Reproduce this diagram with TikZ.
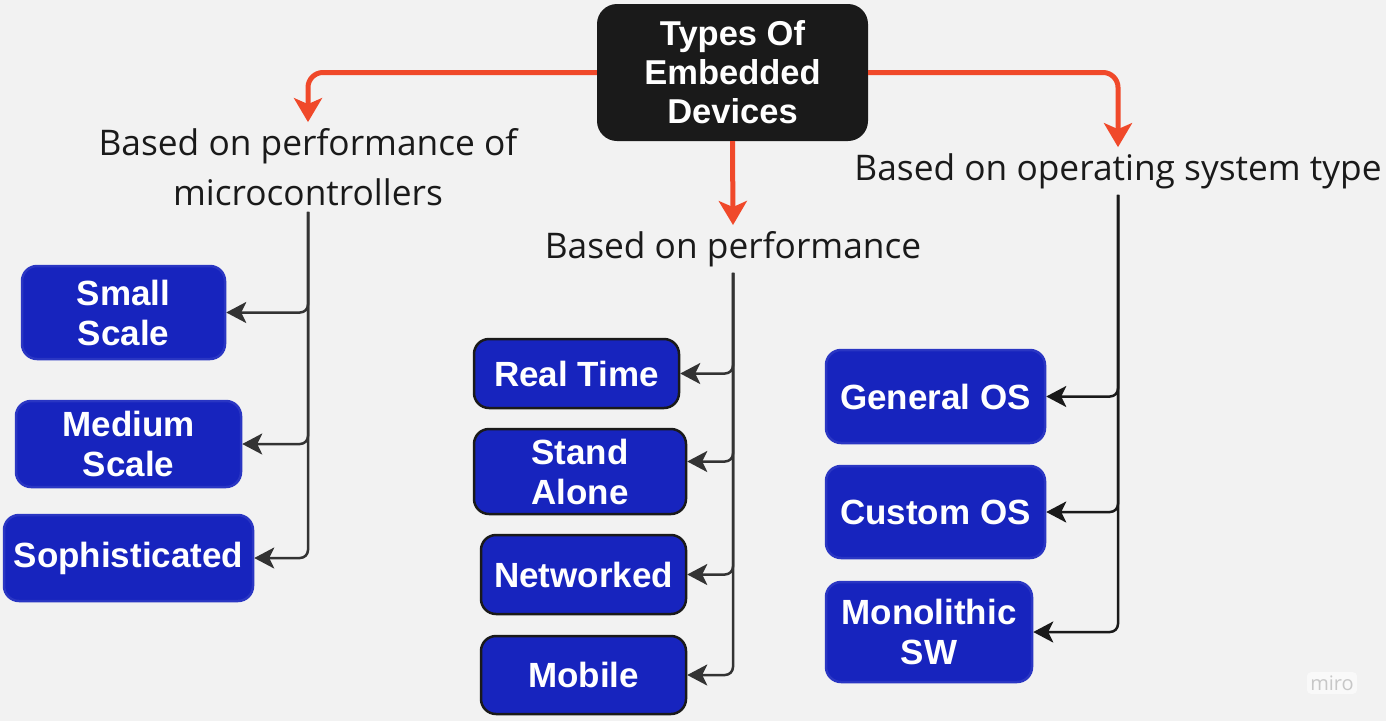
\documentclass[tikz,border=0pt]{standalone}
\usepackage{fontspec}
\setmainfont{Liberation Sans}
\newfontfamily\labelfont{Open Sans}
\usetikzlibrary{arrows.meta}
\definecolor{bg}{HTML}{F2F2F2}
\definecolor{boxblue}{HTML}{1724BE}
\definecolor{titleblack}{HTML}{1A1A1A}
\definecolor{mirored}{HTML}{F0492A}
\definecolor{linegray}{HTML}{333333}
\tikzset{
  typebox/.style={draw=#1, line width=2.5pt, fill=boxblue, rounded corners=15pt,
    text=white, font=\bfseries\fontsize{35}{40}\selectfont, align=center, inner sep=0pt},
  typebox/.default=boxblue!92!white,
  lbl/.style={font=\labelfont\fontsize{35.3}{50}\selectfont, text=titleblack,
    align=center, inner sep=6pt},
  branch/.style={draw=#1, line width=2.5pt, rounded corners=8pt,
    -{Stealth[length=20pt,width=21pt,inset=5pt]}},
  branch/.default=linegray,
  redarrow/.style={draw=mirored, line width=5pt, rounded corners=15pt,
    -{Stealth[length=24pt,width=28pt,inset=6pt]}}
}

\begin{document}
\begin{tikzpicture}[x=1pt,y=-1pt]
   \fill[bg] (0,0) rectangle (1386,721);
   \useasboundingbox (0,0) rectangle (1386,721);
   \node[fill=titleblack, rounded corners=20pt, text=white, align=center,
    font=\bfseries\fontsize{34.5}{39}\selectfont, minimum width=271pt,
    minimum height=137pt, inner sep=0pt] (title) at (732.5,72.5)
    {Types Of\\Embedded\\Devices};
   \node[lbl] (lblmcu) at (308,167) {Based on performance of\\microcontrollers};
   \node[lbl] (lblperf) at (733,249) {Based on performance};
   \node[lbl] (lblos) at (1118,171) {Based on operating system type};
   \draw[redarrow] (title.west) -| (lblmcu.north);
   \draw[redarrow] (title.south) -- (lblperf.north);
   \draw[redarrow] (title.east) -| (lblos.north);
   \node[typebox, minimum width=203pt, minimum height=93pt] (small) at (123.5,312.5) {Small\\Scale};
   \node[typebox, minimum width=225pt, minimum height=86pt] (medium) at (128.5,444) {Medium\\Scale};
   \node[typebox, minimum width=249pt, minimum height=86pt] (soph) at (128.5,558) {Sophisticated};
   \node[typebox=titleblack, minimum width=205pt, minimum height=69pt] (realtime) at (576.5,373.5) {Real Time};
   \node[typebox=titleblack, minimum width=212pt, minimum height=85pt] (standalone) at (580,471.5) {Stand\\Alone};
   \node[typebox=titleblack, minimum width=205pt, minimum height=79pt] (networked) at (583.5,574.5) {Networked};
   \node[typebox=titleblack, minimum width=205pt, minimum height=78pt] (mobile) at (583.5,675) {Mobile};
   \node[typebox, minimum width=219pt, minimum height=93pt] (generalos) at (935.5,396.5) {General OS};
   \node[typebox, minimum width=219pt, minimum height=92pt] (customos) at (935.5,512) {Custom OS};
   \node[typebox, minimum width=206pt, minimum height=100pt] (mono) at (929,632) {Monolithic\\SW};
   \foreach \b in {small,medium,soph}
    \draw[branch] (lblmcu.south) |- (\b.east);
   \foreach \b in {realtime,networked,mobile}
    \draw[branch] (lblperf.south) |- (\b.east);
   \draw[branch] (lblperf.south) |- ([yshift=10pt]standalone.east);
   \foreach \b in {generalos,customos,mono}
    \draw[branch=titleblack] (lblos.south) |- (\b.east);
   \node[fill=white!55!bg, rounded corners=4pt, text=black!22,
    font=\labelfont\fontsize{20}{20}\selectfont] (miro) at (1332,683) {miro};
\end{tikzpicture}
\end{document}
